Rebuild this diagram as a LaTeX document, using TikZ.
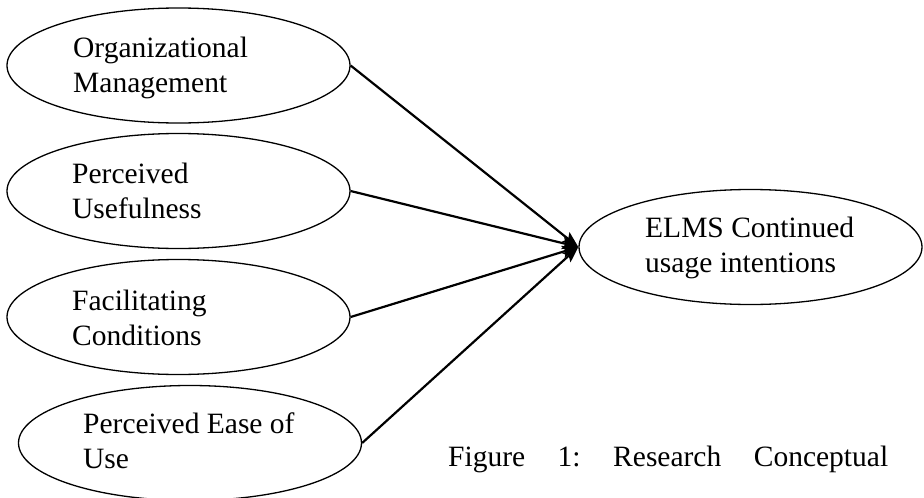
\documentclass[tikz,border=0pt]{standalone}
\usepackage{fontspec}
\setmainfont{Liberation Serif}
\usetikzlibrary{shapes.geometric,arrows.meta}
\begin{document}
\begin{tikzpicture}[x=1pt,y=-1pt,
  ell/.style={draw=black, ellipse, line width=1.3pt, inner sep=0pt,
    minimum width=343pt, minimum height=115pt},
  lbl/.style={anchor=base west, inner sep=0pt, font=\fontsize{29.5}{35}\selectfont},
  arr/.style={line width=2.2pt, -{Stealth[length=16pt,width=12pt,inset=3pt]}}]
\useasboundingbox (0,0) rectangle (924,498);
\node[ell] (e1) at (178.5,65.5) {};
\node[ell] (e2) at (178.5,191) {};
\node[ell] (e3) at (178.5,317) {};
\node[ell] (e4) at (190,443) {};
\node[ell] (t) at (750.5,247) {};
\node[lbl] (l1) at (73,57) {\vtop{\hbox{Organizational}\hbox{Management}}};
\node[lbl] (l2) at (72,183) {\vtop{\hbox{Perceived}\hbox{Usefulness}}};
\node[lbl] (l3) at (72,310) {\vtop{\hbox{Facilitating}\hbox{Conditions}}};
\node[lbl] (l4) at (83,433) {\vtop{\hbox{Perceived Ease of}\hbox{Use}}};
\node[lbl] (lt) at (645,237) {\vtop{\hbox{ELMS Continued}\hbox{usage intentions}}};
\node[lbl] (cap) at (448,466) {\hbox to 440pt{Figure\hfill 1:\hfill Research\hfill Conceptual}};
\draw[arr] (e1.east) -- (t.west);
\draw[arr] (e2.east) -- (t.west);
\draw[arr] (e3.east) -- (t.west);
\draw[arr] (e4.east) -- (t.west);
\end{tikzpicture}
\end{document}
